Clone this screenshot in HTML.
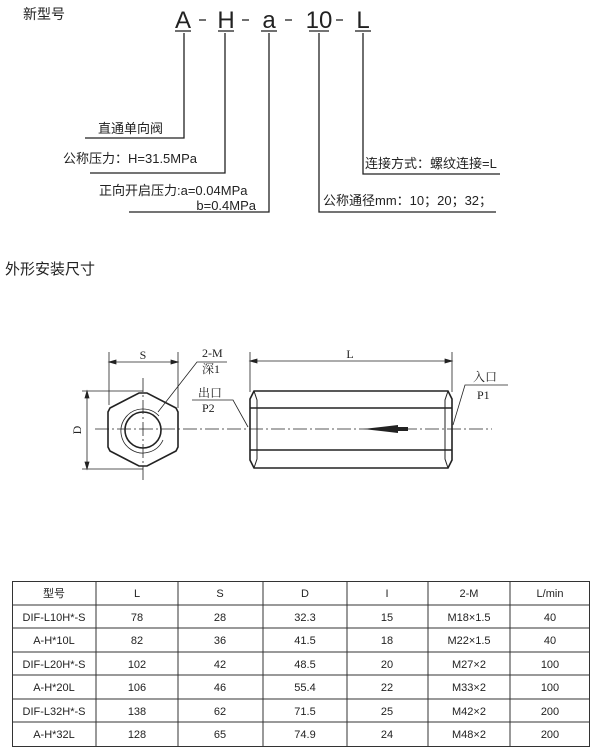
<!DOCTYPE html>
<html><head><meta charset="utf-8"><style>
body{margin:0;background:#fff;}
svg{display:block;}
text{font-family:"Liberation Sans","Noto Sans CJK SC",sans-serif;fill:#222;}
.s{font-family:"Liberation Serif","Noto Serif CJK SC",serif;}
</style></head><body>
<svg width="600" height="750" viewBox="0 0 600 750" xmlns="http://www.w3.org/2000/svg">
<g stroke="#222" stroke-width="1.3" fill="none">
<line x1="175" y1="31" x2="191" y2="31"/><line x1="218" y1="31" x2="234" y2="31"/>
<line x1="261" y1="31" x2="277" y2="31"/><line x1="309" y1="31" x2="329" y2="31"/>
<line x1="355" y1="31" x2="371" y2="31"/>
<line x1="199" y1="20" x2="206" y2="20"/><line x1="242" y1="20" x2="249" y2="20"/>
<line x1="285" y1="20" x2="292" y2="20"/><line x1="336" y1="20" x2="343" y2="20"/>
<polyline points="184,33 184,138 85,138"/>
<polyline points="225,33 225,173 90,173"/>
<polyline points="269,33 269,212 129,212"/>
<polyline points="319,33 319,212 496,212"/>
<polyline points="363,33 363,174 500,174"/>
</g>
<text x="23" y="19" font-size="14">新型号</text>
<g font-size="24">
<text x="183" y="28" text-anchor="middle">A</text>
<text x="226" y="28" text-anchor="middle">H</text>
<text x="269" y="28" text-anchor="middle">a</text>
<text x="319" y="28" text-anchor="middle">10</text>
<text x="363" y="28" text-anchor="middle">L</text>
</g>
<g font-size="13">
<text x="98" y="133">直通单向阀</text>
<text x="63" y="163">公称压力：H=31.5MPa</text>
<text x="99" y="195">正向开启压力:a=0.04MPa</text>
<text x="256" y="210" text-anchor="end">b=0.4MPa</text>
<text x="323" y="205">公称通径mm：10；20；32；</text>
<text x="365" y="168">连接方式：螺纹连接=L</text>
</g>
<text x="5" y="274" font-size="15">外形安装尺寸</text>

<g stroke="#222" fill="none" stroke-width="0.8">
<line x1="95" y1="429" x2="492" y2="429" stroke-dasharray="14,3,2,3"/>
<line x1="143" y1="378" x2="143" y2="482" stroke-dasharray="14,3,2,3"/>
<line x1="109" y1="352" x2="109" y2="405"/><line x1="178" y1="352" x2="178" y2="408"/>
<line x1="109" y1="362" x2="178" y2="362"/>
<path d="M109 362 l7 -2 v4z M178 362 l-7 -2 v4z" fill="#222"/>
<line x1="82" y1="391" x2="143" y2="391"/><line x1="82" y1="469" x2="143" y2="469"/>
<line x1="87" y1="391" x2="87" y2="469"/>
<path d="M87 391 l-2 7 h4z M87 469 l-2 -7 h4z" fill="#222"/>
<line x1="250" y1="352" x2="250" y2="392"/><line x1="452" y1="352" x2="452" y2="392"/>
<line x1="250" y1="361" x2="452" y2="361"/>
<path d="M250 361 l7 -2 v4z M452 361 l-7 -2 v4z" fill="#222"/>
<polyline points="227,362 197,362 158,412"/>
<polyline points="192,400 233,400 248,427"/>
<polyline points="508,385 465,385 453,425"/>
</g>
<g stroke="#222" fill="none" stroke-width="1.6">
<polygon points="139,393 147,393 176,408 178,412 178,447 176,451 147,466 139,466 110,451 108,447 108,412 110,408"/>
<circle cx="143" cy="430" r="18"/>
<path d="M159 416 A22 22 0 1 0 163 440" stroke-width="0.8"/>
<path d="M254 391 H448 L452 399 V460 L448 468 H254 L250 460 V399 Z"/>
<line x1="250" y1="408" x2="452" y2="408"/>
<line x1="250" y1="450" x2="452" y2="450"/>
<polyline points="254,391 257,400 257,459 254,468" stroke-width="1"/>
<polyline points="448,391 445,400 445,459 448,468" stroke-width="1"/>
</g>
<path d="M363 429 L398 425 L398 427 L408 427 L408 431 L398 431 L398 433 Z" fill="#222"/>
<g font-size="12">
<text class="s" x="143" y="359" text-anchor="middle">S</text>
<text class="s" x="350" y="358" text-anchor="middle">L</text>
<text class="s" x="202" y="357">2-M</text>
<text class="s" x="202" y="373">深1</text>
<text class="s" x="198" y="397">出口</text>
<text class="s" x="202" y="412">P2</text>
<text class="s" x="473" y="381">入口</text>
<text class="s" x="477" y="399">P1</text>
<text class="s" x="0" y="0" transform="translate(81,430) rotate(-90)" text-anchor="middle">D</text>
</g>

<g stroke="#333" stroke-width="1" fill="none">
<rect x="12.5" y="581.5" width="577" height="165"/>
<line x1="96" y1="581" x2="96" y2="746"/><line x1="178" y1="581" x2="178" y2="746"/>
<line x1="263" y1="581" x2="263" y2="746"/><line x1="347" y1="581" x2="347" y2="746"/>
<line x1="428" y1="581" x2="428" y2="746"/><line x1="510" y1="581" x2="510" y2="746"/>
<line x1="12" y1="605" x2="589" y2="605"/><line x1="12" y1="628" x2="589" y2="628"/>
<line x1="12" y1="652" x2="589" y2="652"/><line x1="12" y1="675" x2="589" y2="675"/>
<line x1="12" y1="699" x2="589" y2="699"/><line x1="12" y1="722" x2="589" y2="722"/>
</g>
<g font-size="11" text-anchor="middle">
<text x="54" y="597">型号</text><text x="137" y="597">L</text><text x="220" y="597">S</text><text x="305" y="597">D</text><text x="387" y="597">I</text><text x="469" y="597">2-M</text><text x="550" y="597">L/min</text>
<text x="54" y="621">DIF-L10H*-S</text><text x="137" y="621">78</text><text x="220" y="621">28</text><text x="305" y="621">32.3</text><text x="387" y="621">15</text><text x="469" y="621">M18×1.5</text><text x="550" y="621">40</text>
<text x="54" y="644">A-H*10L</text><text x="137" y="644">82</text><text x="220" y="644">36</text><text x="305" y="644">41.5</text><text x="387" y="644">18</text><text x="469" y="644">M22×1.5</text><text x="550" y="644">40</text>
<text x="54" y="668">DIF-L20H*-S</text><text x="137" y="668">102</text><text x="220" y="668">42</text><text x="305" y="668">48.5</text><text x="387" y="668">20</text><text x="469" y="668">M27×2</text><text x="550" y="668">100</text>
<text x="54" y="691">A-H*20L</text><text x="137" y="691">106</text><text x="220" y="691">46</text><text x="305" y="691">55.4</text><text x="387" y="691">22</text><text x="469" y="691">M33×2</text><text x="550" y="691">100</text>
<text x="54" y="715">DIF-L32H*-S</text><text x="137" y="715">138</text><text x="220" y="715">62</text><text x="305" y="715">71.5</text><text x="387" y="715">25</text><text x="469" y="715">M42×2</text><text x="550" y="715">200</text>
<text x="54" y="738">A-H*32L</text><text x="137" y="738">128</text><text x="220" y="738">65</text><text x="305" y="738">74.9</text><text x="387" y="738">24</text><text x="469" y="738">M48×2</text><text x="550" y="738">200</text>
</g>
</svg>
</body></html>
